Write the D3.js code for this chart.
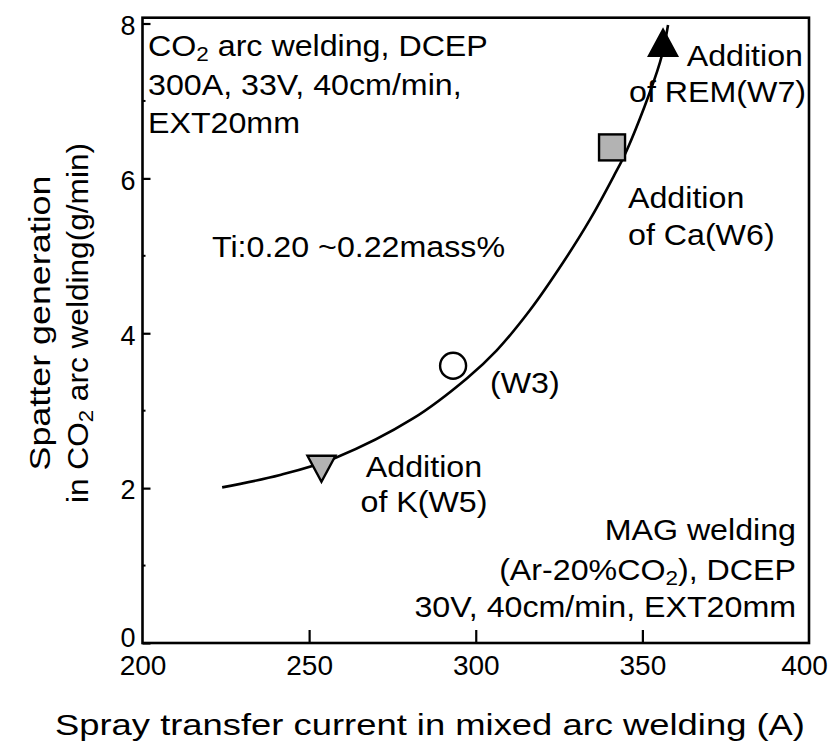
<!DOCTYPE html>
<html><head><meta charset="utf-8">
<script src="https://cdn.jsdelivr.net/npm/d3@7"></script>
<style>
html,body{margin:0;padding:0;background:#fff;}
svg text{font-family:"Liberation Sans",Arial,sans-serif;fill:#000;}
</style></head>
<body><svg id="chart" width="832" height="747"></svg>
<script>
// ---- data ----
const xTicks = [200, 250, 300, 350, 400];
const yTicks = [0, 2, 4, 6, 8];
const yMinorTicks = [1, 3, 5, 7];
const curveX = [223.9, 241.3, 257.8, 281.2, 297.4, 306.3, 316.3, 326.3, 334.3, 341.3, 345.4, 355.3, 357.7];
const curveY = [2.01, 2.17, 2.39, 2.90, 3.42, 3.78, 4.30, 4.92, 5.47, 6.02, 6.37, 7.50, 7.98];
const pointNames = ["W5", "W3", "W6", "W7"];
const pointX = [253.7, 293.2, 340.9, 356.2];
const pointY = [2.25, 3.58, 6.40, 7.75];
const pointShape = ["triDown", "circle", "square", "triUp"];
const pointFill = ["#b3b3b3", "#ffffff", "#b3b3b3", "#000000"];

const FS = 29, SX = 1.11;
const svg = d3.select("#chart");
const x = d3.scaleLinear().domain([200, 400]).range([142.5, 809]);
const y = d3.scaleLinear().domain([0, 8]).range([643, 23.5]);
const yTop = 17.7;

// box
svg.append("rect").attr("x", x(200)).attr("y", yTop)
  .attr("width", x(400) - x(200)).attr("height", y(0) - yTop)
  .attr("fill", "none").attr("stroke", "#000").attr("stroke-width", 2.6);

// y axis
const yAxis = d3.axisLeft(y).tickValues(yTicks).tickSize(-8).tickPadding(7).tickFormat(d3.format("d"));
const gy = svg.append("g").attr("transform", `translate(${x(200)},0)`).call(yAxis);
gy.select(".domain").remove();
gy.selectAll(".tick line").attr("stroke-width", 2.2);
gy.selectAll(".tick text").attr("font-size", 27).attr("font-family", '"Liberation Sans",Arial,sans-serif')
  .attr("dy", d => d === 0 ? "0.12em" : "0.4em");
svg.append("g").selectAll("line").data(yMinorTicks).join("line")
  .attr("x1", x(200)).attr("x2", x(200) + 3).attr("y1", d => y(d)).attr("y2", d => y(d))
  .attr("stroke", "#000").attr("stroke-width", 2);

// x axis
const xAxis = d3.axisBottom(x).tickValues(xTicks).tickSize(-13).tickPadding(12).tickFormat(d3.format("d"));
const gx = svg.append("g").attr("transform", `translate(0,${y(0)})`).call(xAxis);
gx.select(".domain").remove();
gx.selectAll(".tick line").attr("stroke-width", 2.2).attr("display", d => (d === 200 || d === 400) ? "none" : null);
gx.selectAll(".tick text").attr("font-size", 28).attr("font-family", '"Liberation Sans",Arial,sans-serif')
  .attr("dx", d => d === 400 ? -5 : 0);

// axis titles
svg.append("text").attr("x", 430).attr("y", 735).attr("text-anchor", "middle").attr("font-size", FS)
  .attr("textLength", 750).attr("lengthAdjust", "spacingAndGlyphs")
  .text("Spray transfer current in mixed arc welding (A)");
const yl = svg.append("g").attr("transform", "translate(0,323) rotate(-90)");
yl.append("text").attr("x", 0).attr("y", 50).attr("text-anchor", "middle").attr("font-size", FS)
  .attr("textLength", 295).attr("lengthAdjust", "spacingAndGlyphs").text("Spatter generation");
const yl2 = yl.append("text").attr("x", 0).attr("y", 88).attr("text-anchor", "middle").attr("font-size", FS)
  .attr("textLength", 360).attr("lengthAdjust", "spacingAndGlyphs");
yl2.append("tspan").text("in CO");
yl2.append("tspan").attr("font-size", FS * 0.7).attr("dy", 5).text("2");
yl2.append("tspan").attr("dy", -5).text(" arc welding(g/min)");

// curve
const curveData = curveX.map((v, i) => [v, curveY[i]]);
svg.append("path").datum(curveData)
  .attr("d", d3.line().x(d => x(d[0])).y(d => y(d[1])).curve(d3.curveCatmullRom.alpha(0.5)))
  .attr("fill", "none").attr("stroke", "#000").attr("stroke-width", 2.6);

// markers
const S = 14;
pointNames.forEach((n, i) => {
  const cx = x(pointX[i]), cy = y(pointY[i]);
  let el;
  if (pointShape[i] === "circle") {
    el = svg.append("circle").attr("cx", cx).attr("cy", cy).attr("r", 13);
  } else if (pointShape[i] === "square") {
    el = svg.append("rect").attr("x", cx - S + 1).attr("y", cy - S + 1).attr("width", 2 * S - 2).attr("height", 2 * S - 2);
  } else if (pointShape[i] === "triDown") {
    el = svg.append("path").attr("d", `M${cx - S},${cy - S + 1}L${cx + S},${cy - S + 1}L${cx},${cy + S - 1}Z`);
  } else {
    el = svg.append("path").attr("d", `M${cx - S},${cy + S - 1}L${cx + S},${cy + S - 1}L${cx},${cy - S + 1}Z`);
  }
  el.attr("fill", pointFill[i]).attr("stroke", "#000").attr("stroke-width", 2.4).attr("stroke-linejoin", "miter");
});

// annotations (slightly wide lettering as in the original)
function txt(xp, yp, s, anchor) {
  const g = svg.append("g").attr("transform", `translate(${xp},${yp}) scale(${SX},1)`);
  const t = g.append("text").attr("x", 0).attr("y", 0).attr("font-size", FS).attr("text-anchor", anchor || "start");
  if (s !== null) t.text(s);
  return t;
}
const t1 = txt(148, 56, null);
t1.append("tspan").text("CO");
t1.append("tspan").attr("font-size", FS * 0.7).attr("dy", 5).text("2");
t1.append("tspan").attr("dy", -5).text(" arc welding, DCEP");
txt(148, 95, "300A, 33V, 40cm/min,");
txt(148, 133, "EXT20mm");
txt(505, 257, "Ti:0.20 ~0.22mass%", "end");

txt(803, 66, "Addition", "end");
txt(806, 102, "of REM(W7)", "end");
txt(628, 208, "Addition");
txt(628, 245, "of Ca(W6)");
txt(490, 393, "(W3)");
txt(424, 477, "Addition", "middle");
txt(424, 512, "of K(W5)", "middle");

txt(796, 540, "MAG welding", "end");
const t2 = txt(796, 580, null, "end");
t2.append("tspan").text("(Ar-20%CO");
t2.append("tspan").attr("font-size", FS * 0.7).attr("dy", 5).text("2");
t2.append("tspan").attr("dy", -5).text("), DCEP");
txt(796, 617, "30V, 40cm/min, EXT20mm", "end");
</script></body></html>
